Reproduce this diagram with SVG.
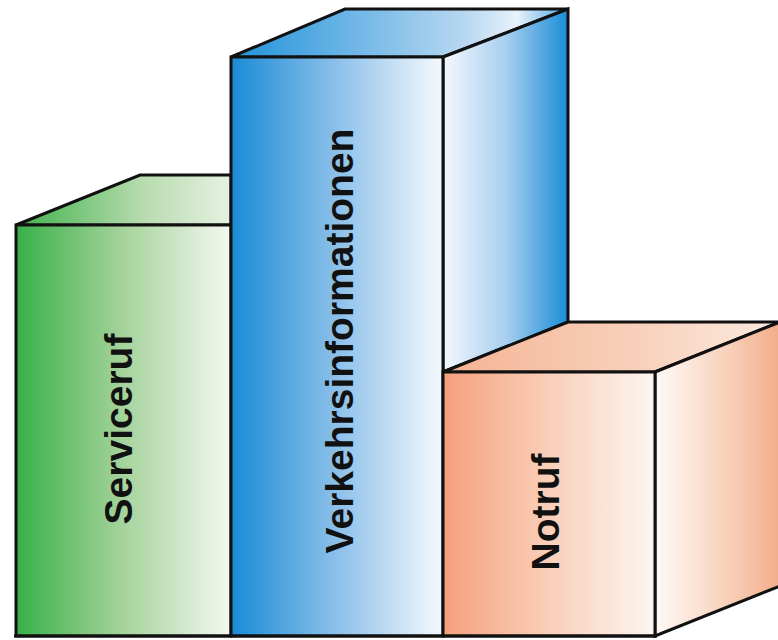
<svg xmlns="http://www.w3.org/2000/svg" width="778" height="640" viewBox="0 0 778 640">
  <defs>
    <linearGradient id="gFront" x1="0" y1="0" x2="1" y2="0">
      <stop offset="0" stop-color="#38b048"/>
      <stop offset="0.5" stop-color="#a6d39c"/>
      <stop offset="1" stop-color="#f4f8f2"/>
    </linearGradient>
    <linearGradient id="gTop" x1="0" y1="0" x2="1" y2="0">
      <stop offset="0" stop-color="#3fb24a"/>
      <stop offset="0.6" stop-color="#b9dcb0"/>
      <stop offset="1" stop-color="#e6f1e2"/>
    </linearGradient>
    <linearGradient id="bFront" x1="0" y1="0" x2="1" y2="0">
      <stop offset="0" stop-color="#1a8bd5"/>
      <stop offset="0.5" stop-color="#8cc0ea"/>
      <stop offset="1" stop-color="#f6f9fd"/>
    </linearGradient>
    <linearGradient id="bTop" x1="0" y1="0" x2="1" y2="0">
      <stop offset="0" stop-color="#1f92da"/>
      <stop offset="0.7" stop-color="#b9d8f1"/>
      <stop offset="0.85" stop-color="#e8f2fb"/>
      <stop offset="1" stop-color="#4aa5e0"/>
    </linearGradient>
    <linearGradient id="bSide" x1="0" y1="0" x2="1" y2="0">
      <stop offset="0" stop-color="#f4f8fd"/>
      <stop offset="0.5" stop-color="#a9cff0"/>
      <stop offset="1" stop-color="#1b8dd6"/>
    </linearGradient>
    <linearGradient id="oFront" x1="0" y1="0" x2="1" y2="0">
      <stop offset="0" stop-color="#f5a07c"/>
      <stop offset="0.5" stop-color="#f9cfb9"/>
      <stop offset="1" stop-color="#fdf6f1"/>
    </linearGradient>
    <linearGradient id="oTop" x1="0" y1="0" x2="1" y2="0">
      <stop offset="0" stop-color="#f5b393"/>
      <stop offset="0.6" stop-color="#f8d2bd"/>
      <stop offset="1" stop-color="#fcebe0"/>
    </linearGradient>
    <linearGradient id="oSide" x1="0" y1="0" x2="1" y2="0">
      <stop offset="0" stop-color="#fefaf7"/>
      <stop offset="0.6" stop-color="#f8cfb8"/>
      <stop offset="1" stop-color="#f3ac8a"/>
    </linearGradient>
  </defs>
  <style>
    .edge { stroke: #111; stroke-width: 3; stroke-linejoin: miter; }
    .lbl { font-family: "Liberation Sans", Arial, sans-serif; font-weight: bold; font-size: 39px; fill: #111; text-anchor: middle; }
  </style>
  <rect width="778" height="640" fill="#ffffff"/>

  <g id="serviceruf">
    <polygon class="edge" points="16,225 140,175 231,175 231,225" fill="url(#gTop)"/>
    <rect class="edge" x="16" y="225" width="215" height="411" fill="url(#gFront)"/>
    <text class="lbl" transform="translate(132,429) rotate(-90)">Serviceruf</text>
  </g>

  <g id="verkehrsinformationen">
    <polygon class="edge" points="231,57 345,9 568,9 443,57" fill="url(#bTop)"/>
    <polygon class="edge" points="443,57 568,9 568,322 443,372" fill="url(#bSide)"/>
    <rect class="edge" x="231" y="57" width="212" height="579" fill="url(#bFront)"/>
    <text class="lbl" transform="translate(353,341) rotate(-90)">Verkehrsinformationen</text>
  </g>

  <g id="notruf">
    <polygon class="edge" points="443,372 568,322 780,322 655,372" fill="url(#oTop)"/>
    <polygon class="edge" points="655,372 780,322 780,586 655,636" fill="url(#oSide)"/>
    <rect class="edge" x="443" y="372" width="212" height="264" fill="url(#oFront)"/>
    <text class="lbl" transform="translate(559,512) rotate(-90)">Notruf</text>
  </g>

  <g id="connectors">
    <line class="edge" x1="14" y1="636" x2="657" y2="636" stroke-width="4"/>
  </g>
</svg>
